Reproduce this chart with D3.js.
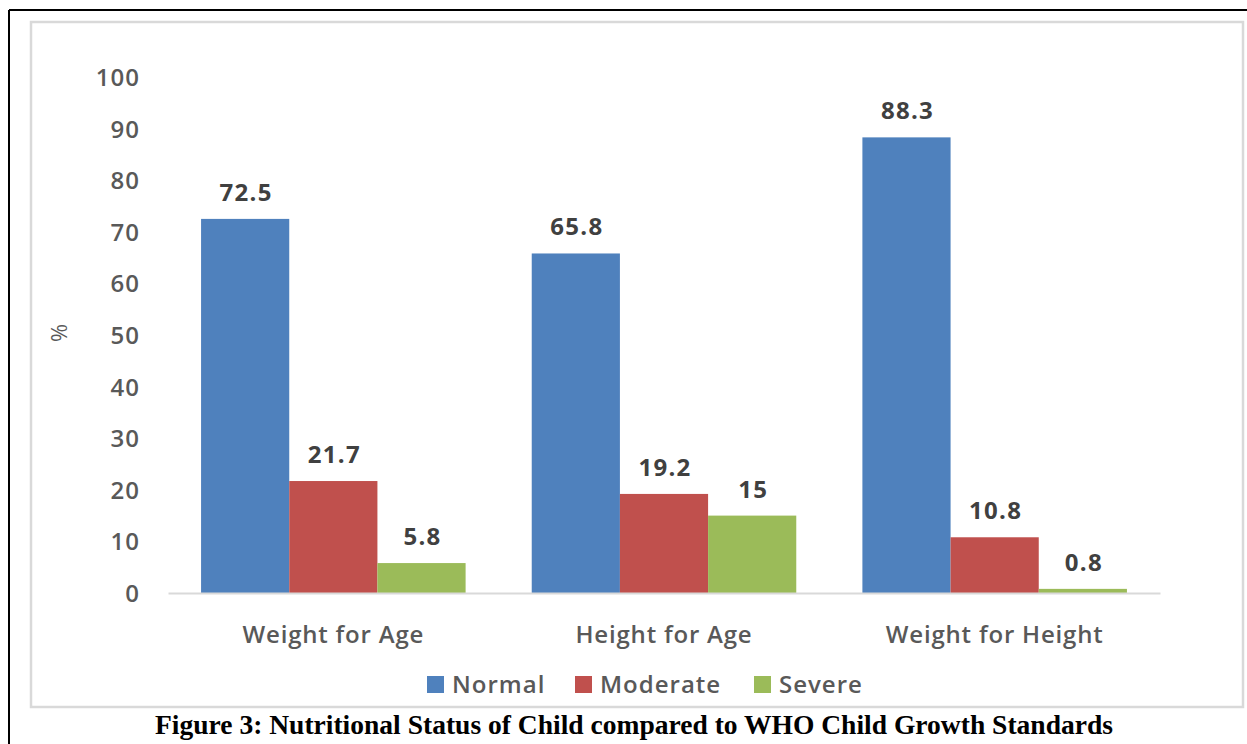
<!DOCTYPE html>
<html>
<head>
<meta charset="utf-8">
<script src="https://cdn.jsdelivr.net/npm/d3@7"></script>
<style>
  body { margin: 0; background: #fff; }
  svg { display: block; }
</style>
</head>
<body>
<svg id="chart" width="1247" height="744"></svg>
<script>
var categories = ["Weight for Age", "Height for Age", "Weight for Height"];
var seriesNames = ["Normal", "Moderate", "Severe"];
var normal = [72.5, 65.8, 88.3];
var moderate = [21.7, 19.2, 10.8];
var severe = [5.8, 15, 0.8];
var yTicks = [0, 10, 20, 30, 40, 50, 60, 70, 80, 90, 100];
var colors = ["#4F81BD", "#C0504D", "#9BBB59"];

var series = [normal, moderate, severe];

var svg = d3.select("#chart"),
    width = +svg.attr("width"),
    height = +svg.attr("height");

var plot = { left: 168, right: 1160, top: 77, bottom: 593 };

// outer frame (only top and left show in the picture)
svg.append("line").attr("x1", 9).attr("x2", width).attr("y1", 10).attr("y2", 10)
    .attr("stroke", "#000").attr("stroke-width", 2);
svg.append("line").attr("x1", 9).attr("x2", 9).attr("y1", 10).attr("y2", height)
    .attr("stroke", "#000").attr("stroke-width", 2);

// chart area border
svg.append("rect").attr("x", 31).attr("y", 22).attr("width", 1212).attr("height", 685)
    .attr("fill", "#fff").attr("stroke", "#d9d9d9").attr("stroke-width", 2.5);

var x0 = d3.scaleBand()
    .domain(categories)
    .range([plot.left, plot.right])
    .paddingInner(0.2)
    .paddingOuter(0.1);

var x1 = d3.scaleBand()
    .domain(seriesNames)
    .range([0, x0.bandwidth()]);

var y = d3.scaleLinear()
    .domain([0, 100])
    .range([plot.bottom, plot.top]);

// y axis labels
var yAxis = svg.append("g")
    .attr("transform", "translate(140,0)")
    .call(d3.axisLeft(y).tickValues(yTicks).tickSize(0).tickPadding(0));
yAxis.select(".domain").remove();
yAxis.selectAll("text")
    .attr("font-family", "'Open Sans', sans-serif")
    .attr("font-size", 24)
    .attr("font-weight", 600)
    .attr("letter-spacing", 1)
    .attr("fill", "#595959")
    .attr("dy", "0.35em");

svg.append("text")
    .attr("transform", "translate(67,333) rotate(-90)")
    .attr("text-anchor", "middle")
    .attr("font-family", "'Open Sans', sans-serif")
    .attr("font-size", 22)
    .attr("fill", "#595959")
    .text("%");

// bars
var rows = [];
categories.forEach(function(c, i) {
    seriesNames.forEach(function(s, j) {
        rows.push({ cat: c, name: s, value: series[j][i], color: colors[j] });
    });
});

svg.append("g").selectAll("rect")
    .data(rows)
    .join("rect")
    .attr("x", function(d) { return x0(d.cat) + x1(d.name); })
    .attr("y", function(d) { return y(d.value); })
    .attr("width", x1.bandwidth())
    .attr("height", function(d) { return y(0) - y(d.value); })
    .attr("fill", function(d) { return d.color; });

svg.append("g").selectAll("text")
    .data(rows)
    .join("text")
    .attr("x", function(d) { return x0(d.cat) + x1(d.name) + x1.bandwidth() / 2 + 1; })
    .attr("y", function(d) { return y(d.value) - 18; })
    .attr("text-anchor", "middle")
    .attr("font-family", "'Open Sans', sans-serif")
    .attr("font-size", 24)
    .attr("font-weight", 700)
    .attr("letter-spacing", 1.3)
    .attr("fill", "#404040")
    .text(function(d) { return d.value; });

// x axis
var xAxis = svg.append("g")
    .attr("transform", "translate(0," + plot.bottom + ")")
    .call(d3.axisBottom(x0).tickSize(0).tickPadding(0));
xAxis.select(".domain")
    .attr("stroke", "#d9d9d9")
    .attr("stroke-width", 2);
xAxis.selectAll("text")
    .attr("font-family", "'Open Sans', sans-serif")
    .attr("font-size", 24)
    .attr("font-weight", 600)
    .attr("letter-spacing", 0.8)
    .attr("fill", "#595959")
    .attr("dy", 0)
    .attr("y", 50);

// legend
var legendX = [427, 575, 754];
var legend = svg.append("g").selectAll("g")
    .data(seriesNames)
    .join("g")
    .attr("transform", function(d, i) { return "translate(" + legendX[i] + ",676)"; });
legend.append("rect")
    .attr("width", 17).attr("height", 17)
    .attr("fill", function(d, i) { return colors[i]; });
legend.append("text")
    .attr("x", 25).attr("y", 17)
    .attr("font-family", "'Open Sans', sans-serif")
    .attr("font-size", 24)
    .attr("font-weight", 600)
    .attr("letter-spacing", 1)
    .attr("fill", "#595959")
    .text(function(d) { return d; });

// caption
svg.append("text")
    .attr("x", 155).attr("y", 734)
    .attr("font-family", "'Liberation Serif', serif")
    .attr("font-size", 27)
    .attr("font-weight", 700)
    .attr("fill", "#000")
    .attr("textLength", 958)
    .attr("lengthAdjust", "spacingAndGlyphs")
    .text("Figure 3: Nutritional Status of Child compared to WHO Child Growth Standards");
</script>
</body>
</html>
